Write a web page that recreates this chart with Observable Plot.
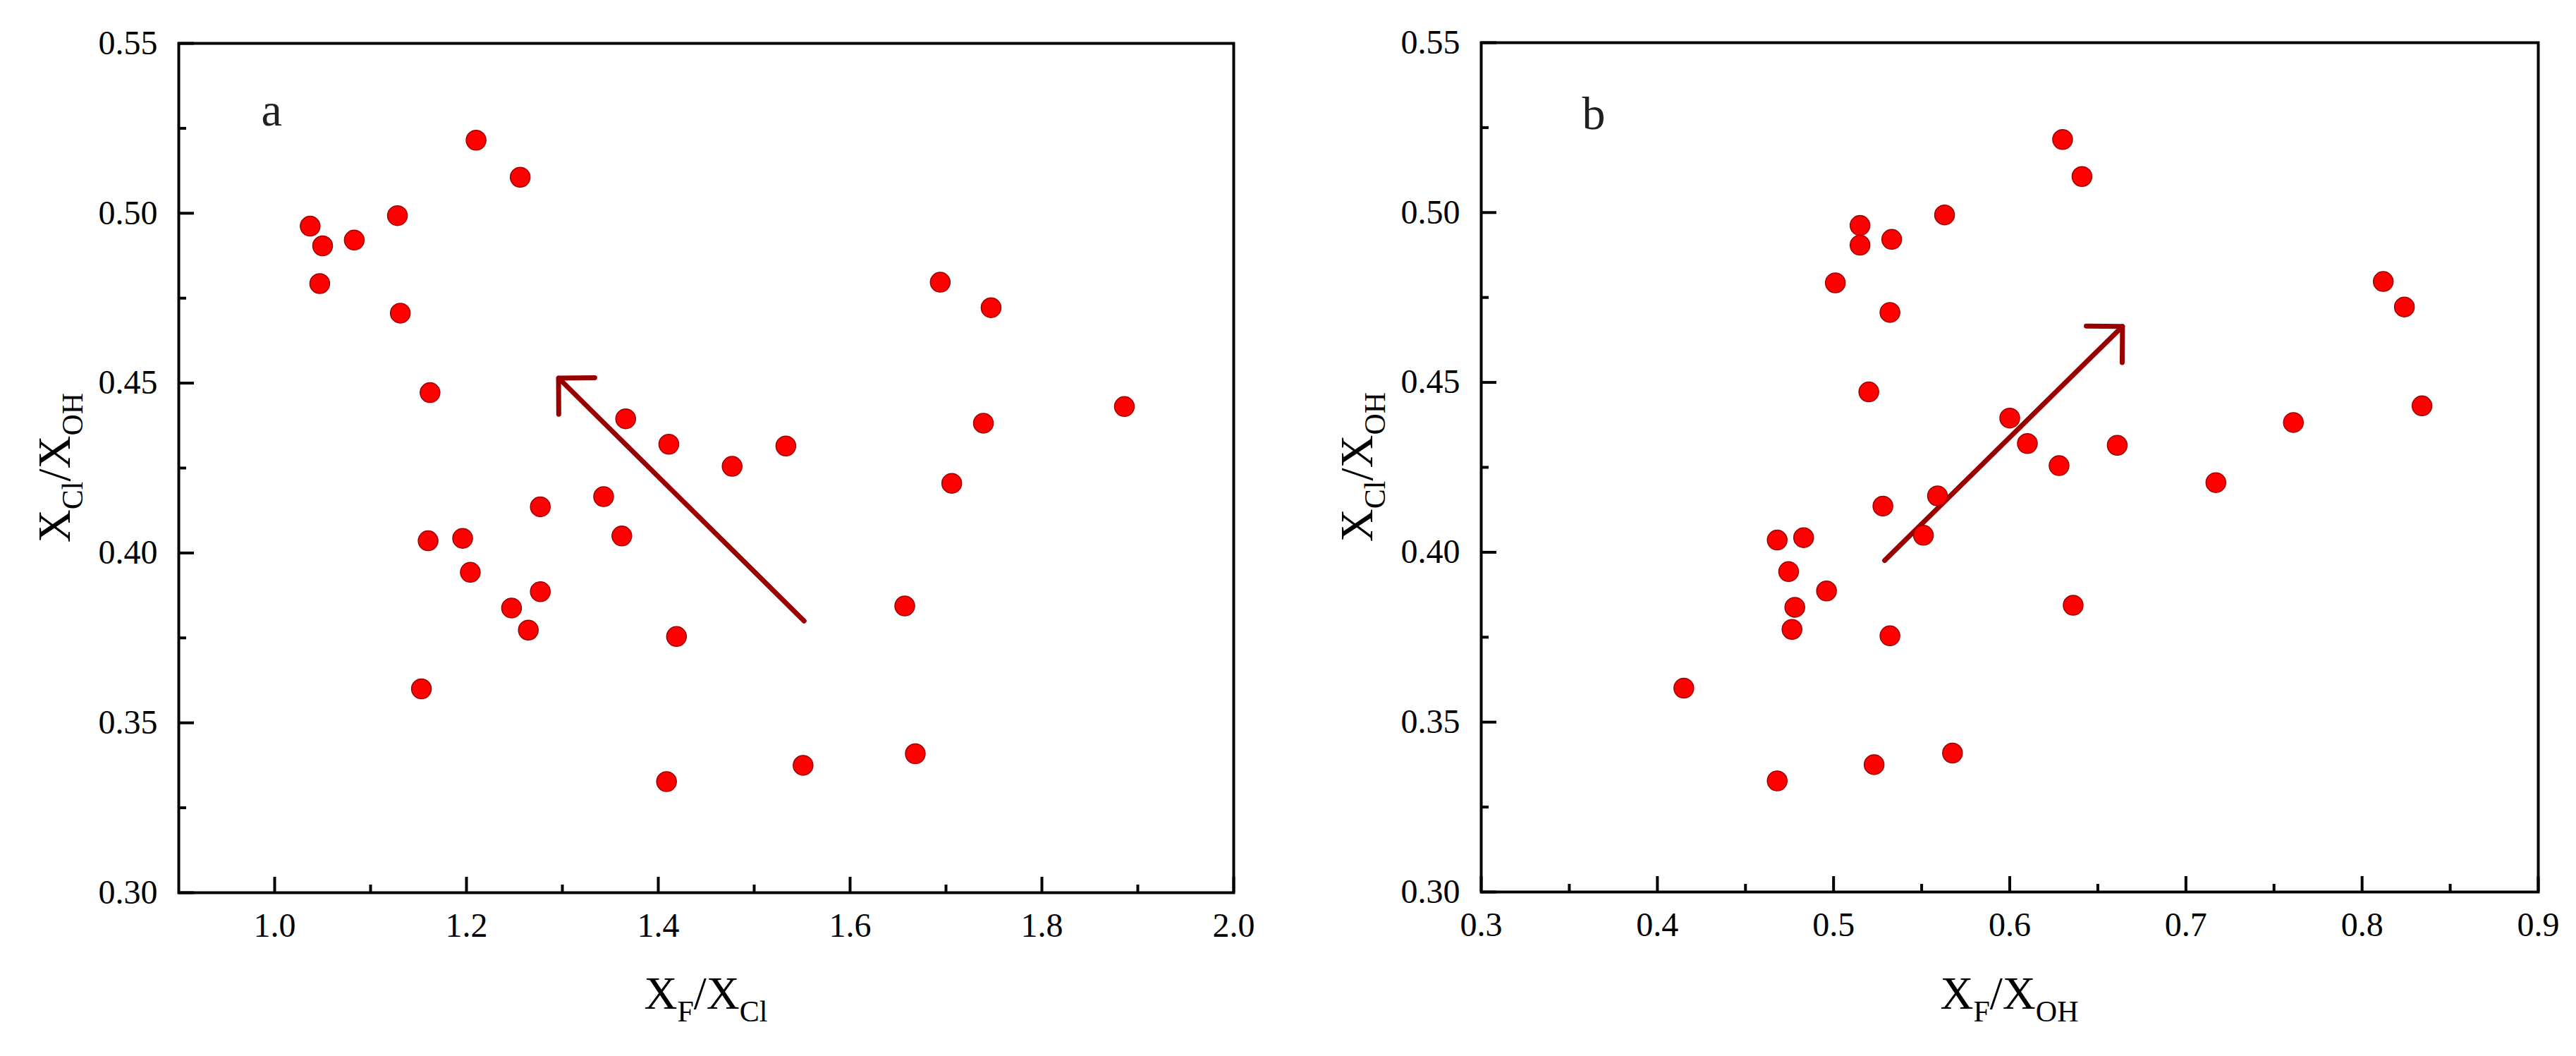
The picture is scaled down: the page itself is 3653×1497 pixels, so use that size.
<!DOCTYPE html>
<html>
<head>
<meta charset="utf-8">
<script src="https://cdn.jsdelivr.net/npm/d3@7"></script>
<script src="https://cdn.jsdelivr.net/npm/@observablehq/plot@0.6"></script>
<style>
  html, body { margin: 0; padding: 0; background: #fff; overflow: hidden; }
  #wrap { display: flex; width: 3653px; height: 1497px; }
  #wrap svg { display: block; }
</style>
</head>
<body>
<div id="wrap"></div>
<script>
// ---- data ----
// X_Cl/X_OH (shared vertical values of both panels)
const xClOH = [0.5215, 0.5106, 0.4993, 0.4962, 0.4921, 0.4904, 0.4797, 0.4793, 0.4722, 0.4706,
               0.4472, 0.4431, 0.4395, 0.4382, 0.4320, 0.4315, 0.4255, 0.4205, 0.4166, 0.4136,
               0.4050, 0.4036, 0.4043, 0.3943, 0.3886, 0.3838, 0.3844, 0.3773, 0.3754, 0.3600,
               0.3409, 0.3375, 0.3327];
// X_F/X_Cl (panel a)
const xFCl = [1.210, 1.256, 1.128, 1.037, 1.083, 1.050, 1.694, 1.047, 1.747, 1.131,
              1.162, 1.886, 1.366, 1.739, 1.411, 1.533, 1.477, 1.706, 1.343, 1.277,
              1.362, 1.160, 1.196, 1.204, 1.277, 1.247, 1.657, 1.2645, 1.419, 1.153,
              1.668, 1.551, 1.4086];
// X_F/X_OH (panel b)
const xFOH = [0.630, 0.641, 0.563, 0.515, 0.533, 0.515, 0.812, 0.501, 0.824, 0.532,
              0.520, 0.834, 0.600, 0.761, 0.610, 0.661, 0.628, 0.717, 0.559, 0.528,
              0.551, 0.468, 0.483, 0.4745, 0.496, 0.478, 0.636, 0.4764, 0.532, 0.415,
              0.5675, 0.523, 0.468];
// trend arrows (start -> head)
const arrowA = [{x1: 1.552, y1: 0.3800, x2: 1.296, y2: 0.4515}];
const arrowB = [{x1: 0.529, y1: 0.3976, x2: 0.664, y2: 0.4665}];
// axes
const yDomain = [0.30, 0.55];
const yMajor = [0.30, 0.35, 0.40, 0.45, 0.50, 0.55];
const yMinor = [0.325, 0.375, 0.425, 0.475, 0.525];
const xDomainA = [0.9, 2.0];
const xMajorA = [1.0, 1.2, 1.4, 1.6, 1.8, 2.0];
const xMinorA = [1.1, 1.3, 1.5, 1.7, 1.9];
const xDomainB = [0.3, 0.9];
const xMajorB = [0.3, 0.4, 0.5, 0.6, 0.7, 0.8, 0.9];
const xMinorB = [0.35, 0.45, 0.55, 0.65, 0.75, 0.85];
const panelLetters = ["a", "b"];

const FONT = "'Liberation Serif', 'Times New Roman', Times, serif";
const H = 1497;
const RED = "#ff0000", DOT_STROKE = "#a00000", ARROW = "#990000";

function panel({width, ml, mr, mt, mb, xDomain, xMajor, xMinor, xFmt, xs, arrow, letter, ldx, ldy, xTitle}) {
  const plotW = width - ml - mr;
  const plotH = H - mt - mb;
  const pts = xs.map((x, i) => ({x, y: xClOH[i]}));
  const svg = Plot.plot({
    width, height: H,
    marginLeft: ml, marginRight: mr, marginTop: mt, marginBottom: mb,
    x: {domain: xDomain},
    y: {domain: yDomain},
    style: {fontFamily: FONT, fontSize: "48px", color: "black", background: "white", overflow: "visible"},
    marks: [
      Plot.axisX({ticks: xMajor, tickSize: 0, tickPadding: 28, tickFormat: d3.format(xFmt), label: null, fontSize: 48}),
      Plot.axisY({ticks: yMajor, tickSize: 0, tickPadding: 30, tickFormat: d3.format(".2f"), label: null, fontSize: 48}),
      Plot.tickX(xMajor, {x: d => d, insetTop: plotH - 22, stroke: "black", strokeWidth: 4}),
      Plot.tickX(xMinor, {x: d => d, insetTop: plotH - 11, stroke: "black", strokeWidth: 4}),
      Plot.tickY(yMajor, {y: d => d, insetRight: plotW - 22, stroke: "black", strokeWidth: 4}),
      Plot.tickY(yMinor, {y: d => d, insetRight: plotW - 11, stroke: "black", strokeWidth: 4}),
      Plot.frame({stroke: "black", strokeWidth: 4}),
      Plot.text([letter], {text: d => d, frameAnchor: "top-left", dx: ldx, dy: ldy, textAnchor: "start", lineAnchor: "bottom", fontSize: 66, fill: "#231f20"}),
      Plot.arrow(arrow, {x1: "x1", y1: "y1", x2: "x2", y2: "y2", stroke: ARROW, strokeWidth: 7, headLength: 11, headAngle: 90}),
      Plot.dot(pts, {x: "x", y: "y", r: 14, fill: RED, stroke: DOT_STROKE, strokeWidth: 1.5})
    ]
  });
  const s = d3.select(svg);
  // y title: X_Cl / X_OH
  const yt = s.append("text")
    .attr("transform", `translate(${ml - 154},${mt + plotH / 2}) rotate(-90)`)
    .attr("text-anchor", "middle")
    .attr("font-family", FONT).attr("font-size", 65).attr("fill", "black");
  yt.append("tspan").text("X");
  yt.append("tspan").attr("font-size", 42).attr("dy", 18).text("Cl");
  yt.append("tspan").attr("dy", -18).text("/X");
  yt.append("tspan").attr("font-size", 42).attr("dy", 18).text("OH");
  // x title
  const xt = s.append("text")
    .attr("x", ml + plotW / 2).attr("y", H - 67)
    .attr("text-anchor", "middle")
    .attr("font-family", FONT).attr("font-size", 65).attr("fill", "black");
  xt.append("tspan").text("X");
  xt.append("tspan").attr("font-size", 42).attr("dy", 18).text("F");
  xt.append("tspan").attr("dy", -18).text("/X");
  xt.append("tspan").attr("font-size", 42).attr("dy", 18).text(xTitle);
  return svg;
}

const wrap = document.getElementById("wrap");
wrap.append(panel({
  width: 1826, ml: 253, mr: 77, mt: 61, mb: 232,
  xDomain: xDomainA, xMajor: xMajorA, xMinor: xMinorA, xFmt: ".1f", xs: xFCl,
  arrow: arrowA, letter: panelLetters[0], ldx: 117, ldy: 116, xTitle: "Cl"
}));
wrap.append(panel({
  width: 1827, ml: 274, mr: 54, mt: 60, mb: 233,
  xDomain: xDomainB, xMajor: xMajorB, xMinor: xMinorB, xFmt: ".1f", xs: xFOH,
  arrow: arrowB, letter: panelLetters[1], ldx: 143, ldy: 122, xTitle: "OH"
}));
</script>
</body>
</html>
